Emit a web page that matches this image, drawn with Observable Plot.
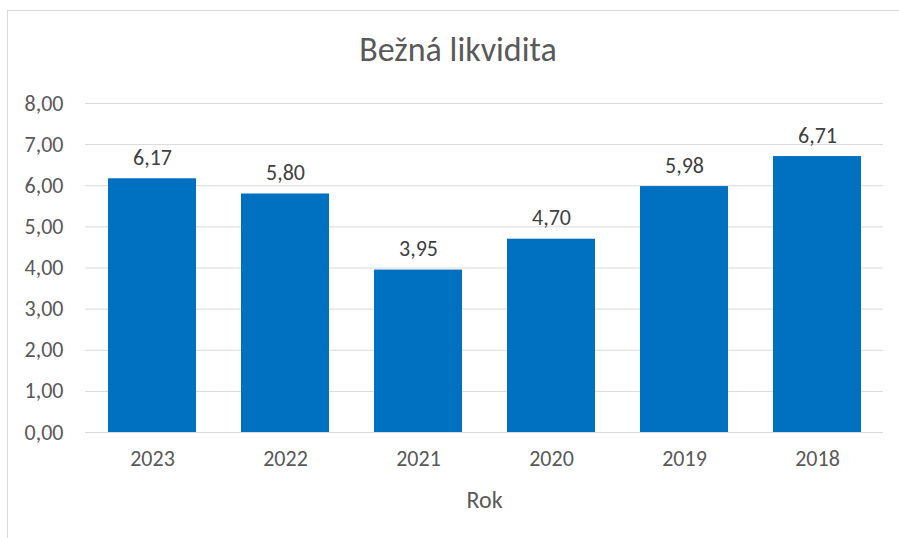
<!DOCTYPE html>
<html>
<head>
<meta charset="utf-8">
<script src="https://cdn.jsdelivr.net/npm/d3@7"></script>
<script src="https://cdn.jsdelivr.net/npm/@observablehq/plot@0.6"></script>
<style>
  html, body { margin: 0; padding: 0; background: #fff; }
  #wrap { position: relative; width: 899px; height: 538px; overflow: hidden; font-family: Carlito, Lato, sans-serif; }
  #border { position: absolute; left: 7px; top: 10px; width: 900px; height: 540px; border: 1px solid #d9d9d9; box-sizing: border-box; }
  #title { position: absolute; left: 0; width: 916px; top: 30px; text-align: center; font-size: 34px; color: #595959; line-height: 40px; }
  #chart { position: absolute; left: 0; top: 80px; }
</style>
</head>
<body>
<div id="wrap">
  <div id="border"></div>
  <div id="title">Bežná likvidita</div>
  <div id="chart"></div>
</div>
<script>
const years = ["2023", "2022", "2021", "2020", "2019", "2018"];
const values = [6.17, 5.80, 3.95, 4.70, 5.98, 6.71];
const yTicks = [0, 1, 2, 3, 4, 5, 6, 7, 8];
const xLabel = "Rok";

const data = years.map((y, i) => ({year: y, value: values[i]}));
const fmt = d => d.toFixed(2).replace(".", ",");

const chart = Plot.plot({
  width: 899,
  height: 440,
  marginTop: 23,
  marginBottom: 88,
  marginLeft: 85,
  marginRight: 16,
  style: {fontFamily: "Carlito, Lato, sans-serif", color: "#595959", background: "transparent"},
  x: {domain: years, paddingInner: 0.34, paddingOuter: 0.17, label: null},
  y: {domain: [0, 8], label: null},
  marks: [
    Plot.gridY(yTicks, {stroke: "#d9d9d9", strokeOpacity: 1, strokeWidth: 1}),
    Plot.barY(data, {x: "year", y: "value", fill: "#0070C0"}),
    Plot.axisY(yTicks, {tickSize: 0, tickPadding: 22, tickFormat: fmt, fontSize: 22, fill: "#595959", label: null}),
    Plot.axisX({tickSize: 0, tickPadding: 18, fontSize: 22, fill: "#595959", label: null}),
    Plot.text(data, {x: "year", y: "value", text: d => fmt(d.value), dy: -21, lineAnchor: "middle", fontSize: 22, fill: "#404040"}),
    Plot.text([xLabel], {frameAnchor: "bottom", dy: 68, lineAnchor: "middle", fontSize: 24, fill: "#595959"})
  ]
});
document.getElementById("chart").appendChild(chart);
</script>
</body>
</html>
